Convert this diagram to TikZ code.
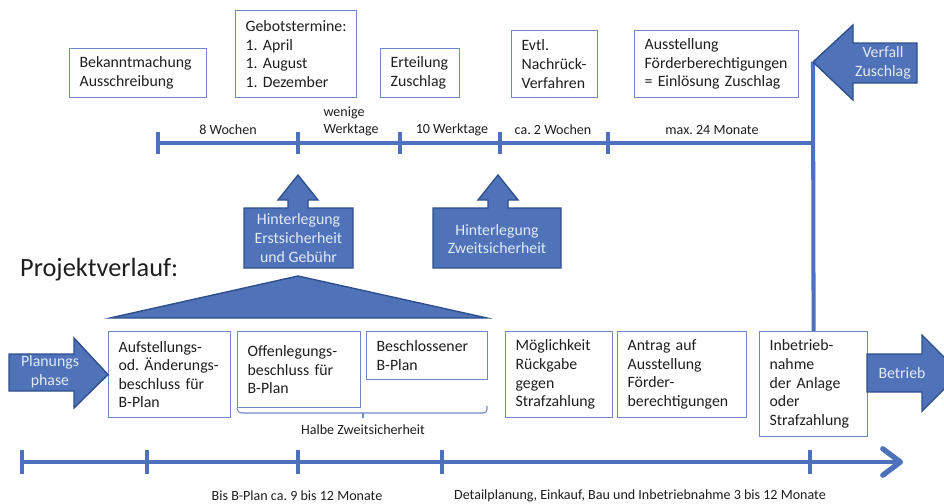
\documentclass[tikz,border=0pt]{standalone}
\usepackage{fontspec}
\setmainfont{Carlito}
\usepackage{tikz}
\usetikzlibrary{arrows.meta}
\tikzset{>=latex}
\frenchspacing
\definecolor{blockblue}{RGB}{79,114,185}
\definecolor{blockedge}{RGB}{47,80,140}
\definecolor{lineblue}{RGB}{78,113,190}
\definecolor{boxedge}{RGB}{112,136,196}
\definecolor{boxtext}{RGB}{30,30,30}
\definecolor{arrowtext}{RGB}{228,234,246}
\tikzset{
  box/.style={draw=boxedge,line width=0.7pt,anchor=north west,align=left,
    inner xsep=0.2cm,inner ysep=0pt,text=boxtext,font=\fontsize{9}{10.6}\selectfont},
  blockarrow/.style={fill=blockblue,draw=blockedge,line width=0.8pt,line join=miter},
  arrowlabel/.style={text=arrowtext,align=center,font=\fontsize{9}{10.6}\selectfont},
  tlabel/.style={text=boxtext,font=\fontsize{8}{9.6}\selectfont},
  tline/.style={draw=lineblue,line width=2.3pt},
  brace/.style={draw=boxedge,line width=0.6pt,rounded corners=2pt}
}

\begin{document}
\begin{tikzpicture}[x=0.02cm,y=-0.02cm]
\useasboundingbox (0,0) rectangle (944,504);

% Ausschreibung
\node [box,text width=2.34cm,minimum height=0.98cm] (bekannt) at (69,48) {Bekanntmachung\\Ausschreibung};
\node [box,text width=2.02cm,minimum height=1.74cm] (gebot) at (235,10) {Gebotstermine:\\1. April\\1. August\\1. Dezember};
\node [box,text width=1.18cm,minimum height=0.98cm] (erteil) at (380,48) {Erteilung\\Zuschlag};
\node [box,text width=1.32cm,minimum height=1.34cm] (nachrueck) at (511,30) {Evtl.\\Nachrück-\\Verfahren};
\node [box,text width=2.88cm,minimum height=1.34cm] (ausstell) at (634,30) {Ausstellung\\Förderberechtigungen\\= Einlösung Zuschlag};

% Projekt
\node [box,text width=2.04cm,minimum height=1.72cm] (aufst) at (108,331) {Aufstellungs-\\od. Änderungs-\\beschluss für\\B-Plan};
\node [box,text width=2.06cm,minimum height=1.52cm] (offen) at (237,331) {Offenlegungs-\\beschluss für\\B-Plan};
\node [box,text width=2.02cm,minimum height=0.96cm] (beschl) at (366,331) {Beschlossener\\B-Plan};
\node [box,text width=1.74cm,minimum height=1.72cm] (moegl) at (505,331) {Möglichkeit\\Rückgabe\\gegen\\Strafzahlung};
\node [box,text width=2.18cm,minimum height=1.72cm] (antrag) at (617,331) {Antrag auf\\Ausstellung\\Förder-\\berechtigungen};
\node [box,text width=1.76cm,minimum height=2.10cm] (inbetr) at (759,331) {Inbetrieb-\\nahme\\der Anlage\\oder\\Strafzahlung};

% obere Zeitleiste
\coordinate (vtip) at (813,62);
\draw [tline] (158,143) -- (813,143);
\draw [tline] (vtip) -- (inbetr.north);
\foreach \x in {158,298,400,500,608}
  \draw [tline] (\x,132) -- (\x,154);
\node [tlabel] (w8) at (228,130) {8 Wochen};
\node [tlabel,align=left] (wenig) at (351,121) {wenige\\Werktage};
\node [tlabel] (w10) at (452,130) {10 Werktage};
\node [tlabel] (w2) at (553,130) {ca. 2 Wochen};
\node [tlabel] (m24) at (712,130) {max. 24 Monate};

% Blockpfeile
\draw [blockarrow] (vtip) -- (853,25) -- (853,43) -- (917,43) -- (917,83) -- (853,83) -- (853,100) -- cycle;
\node [arrowlabel] (verfall) at (883,63) {Verfall\\Zuschlag};
\draw [blockarrow] (244,208) -- (288,208) -- (288,200) -- (278,200) -- (298,175) -- (318,200) -- (308,200) -- (308,208) -- (353,208) -- (353,268) -- (244,268) -- cycle;
\node [arrowlabel] (erst) at (298.5,238) {Hinterlegung\\Erstsicherheit\\und Gebühr};
\draw [blockarrow] (433,208) -- (488,208) -- (488,200) -- (478,200) -- (498,175) -- (518,200) -- (508,200) -- (508,208) -- (561,208) -- (561,268) -- (433,268) -- cycle;
\node [arrowlabel] (zweit) at (497,239) {Hinterlegung\\Zweitsicherheit};
\draw [blockarrow] (9,354) -- (74,354) -- (74,338) -- (aufst.west) -- (74,408) -- (74,391) -- (9,391) -- cycle;
\node [arrowlabel] (planung) at (50,372) {Planungs\\phase};
\draw [blockarrow] (867,354) -- (922,354) -- (922,335) -- (960,373) -- (922,411) -- (922,392) -- (867,392) -- cycle;
\node [arrowlabel] (betrieb) at (902,373) {Betrieb};

\node [anchor=west,text=boxtext,font=\fontsize{15}{17}\selectfont] (projekt) at (14,270) {Projektverlauf:};
\draw [blockarrow] (110,318) -- (298,276) -- (487,318) -- cycle;

% Klammer
\draw [brace] (offen.south west) -- (238,413) -- (487,413) -- (487,406);
\draw [brace] (363,413) -- (363,418);
\node [tlabel] (halb) at (363,430) {Halbe Zweitsicherheit};

% untere Zeitleiste
\draw [tline,-{Straight Barb[round,length=10pt,width=15pt,line width=3pt]}] (22,462) -- (903,462);
\foreach \x in {22,147,298,442,810}
  \draw [tline] (\x,450) -- (\x,474);
\node [tlabel] (bplan) at (297,496) {Bis B-Plan ca. 9 bis 12 Monate};
\node [tlabel] (detail) at (640,496) {Detailplanung, Einkauf, Bau und Inbetriebnahme 3 bis 12 Monate};
\end{tikzpicture}
\end{document}
